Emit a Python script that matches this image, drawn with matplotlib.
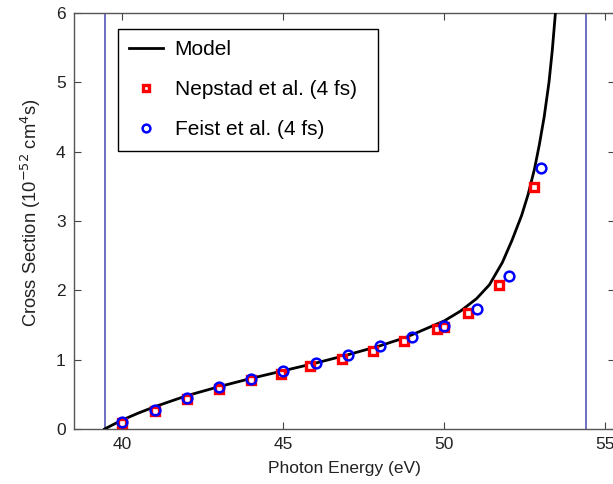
import matplotlib
matplotlib.use("Agg")
import matplotlib.pyplot as plt

plt.rcParams["font.family"] = ["Liberation Sans", "DejaVu Sans"]

# model curve
model_energy = [39.45, 39.7, 40.0, 40.5, 41.0, 41.5, 42.0, 43.0, 44.0, 45.0,
                46.0, 47.0, 48.0, 48.8, 49.5, 50.0, 50.5, 51.0, 51.4, 51.8,
                52.1, 52.4, 52.6, 52.8, 52.95, 53.1, 53.25, 53.35, 53.45, 53.5]
model_sigma = [0.0, 0.06, 0.13, 0.23, 0.32, 0.40, 0.48, 0.61, 0.73, 0.84,
               0.95, 1.07, 1.20, 1.32, 1.46, 1.56, 1.70, 1.88, 2.08, 2.40,
               2.72, 3.08, 3.38, 3.75, 4.10, 4.50, 5.00, 5.45, 6.00, 6.20]

# Nepstad et al. (4 fs)
nepstad_energy = [40.0, 41.0, 42.0, 43.0, 44.0, 44.93, 45.84, 46.81, 47.78,
                  48.76, 49.77, 50.0, 50.72, 51.69, 52.77]
nepstad_sigma = [0.08, 0.26, 0.43, 0.57, 0.71, 0.80, 0.91, 1.01, 1.13,
                 1.27, 1.44, 1.47, 1.68, 2.07, 3.49]

# Feist et al. (4 fs)
feist_energy = [40.0, 41.0, 42.0, 43.0, 44.0, 45.0, 46.0, 47.0, 48.0,
                49.0, 50.0, 51.0, 52.0, 53.0]
feist_sigma = [0.10, 0.28, 0.45, 0.60, 0.72, 0.84, 0.95, 1.07, 1.19,
               1.32, 1.49, 1.73, 2.20, 3.77]

# thresholds (vertical lines)
thresholds = [39.45, 54.4]

fig = plt.figure(figsize=(6.13, 4.84), dpi=100)
ax = fig.add_axes([74 / 613, 55 / 484, 541 / 613, 416 / 484])

for t in thresholds:
    ax.axvline(t, color="#4848b4", linewidth=1.1, zorder=1)

ax.plot(model_energy, model_sigma, color="black", linewidth=2.0, label="Model", zorder=3)
ax.plot(nepstad_energy, nepstad_sigma, linestyle="none", marker="s", markersize=6,
        markerfacecolor="white", markeredgecolor="red", markeredgewidth=2.4,
        label="Nepstad et al. (4 fs)", zorder=4)
ax.plot(feist_energy, feist_sigma, linestyle="none", marker="o", markersize=7,
        markerfacecolor="none", markeredgecolor="blue", markeredgewidth=1.8,
        label="Feist et al. (4 fs)", zorder=5)

ax.set_xlim(38.5, 55.3)
ax.set_ylim(0, 6)
ax.set_xticks([40, 45, 50, 55])
ax.set_yticks([0, 1, 2, 3, 4, 5, 6])
ax.tick_params(direction="in", top=True, right=True, length=5, width=0.8,
               labelsize=12.5, colors="#444444", labelcolor="#222222", pad=6)
for s in ax.spines.values():
    s.set_color("#555555")
    s.set_linewidth(1.0)

ax.set_xlabel("Photon Energy (eV)", fontsize=12.5, color="#222222", labelpad=6)
ax.set_ylabel("Cross Section (10$^{-52}$ cm$^4$s)", fontsize=13.2, color="#222222")
ax.yaxis.set_label_coords(-0.057, 0.52)

leg = ax.legend(loc="upper left", bbox_to_anchor=(0.081, 0.5, 0.4815, 0.4615),
                mode="expand", fontsize=15,
                frameon=True, fancybox=False, edgecolor="black", framealpha=1,
                handlelength=1.6, handletextpad=0.58, labelspacing=1.0,
                borderpad=0.55, borderaxespad=0, markerscale=0.8)
leg.get_frame().set_linewidth(1.0)

fig.savefig("out.png", dpi=100)
